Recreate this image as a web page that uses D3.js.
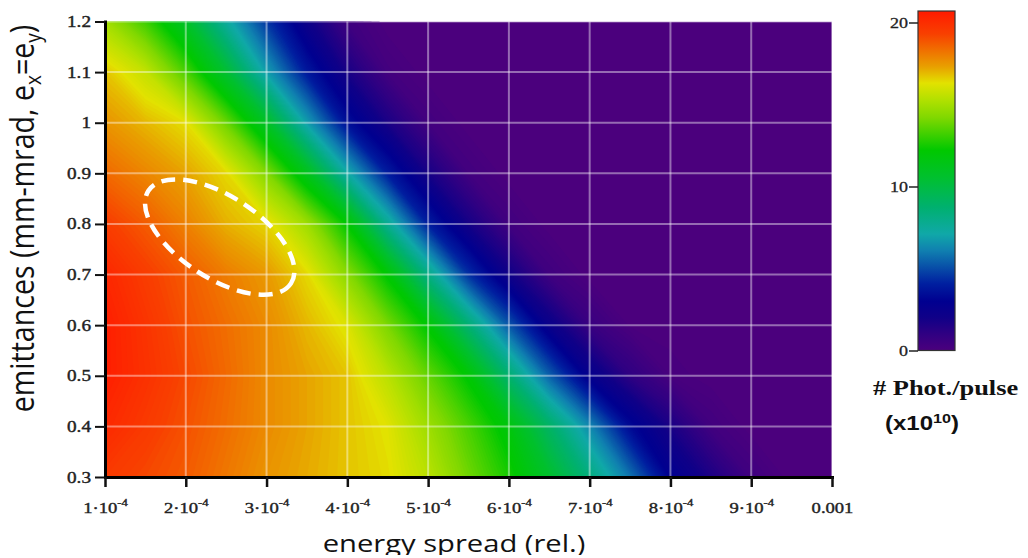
<!DOCTYPE html>
<html><head><meta charset="utf-8">
<script src="https://cdn.jsdelivr.net/npm/d3@7"></script>
<style>
html,body{margin:0;padding:0;background:#fff;}
svg{display:block;}
</style></head>
<body>
<svg id="chart" width="1028" height="558"></svg>
<script>
// ---------- data ----------
const energySpread = [1.0e-4,1.5e-4,2.0e-4,2.5e-4,3.0e-4,3.5e-4,4.0e-4,4.5e-4,5.0e-4,5.5e-4,
                      6.0e-4,6.5e-4,7.0e-4,7.5e-4,8.0e-4,8.5e-4,9.0e-4,9.5e-4,1.0e-3];
const emittance = [1.2,1.1,1.0,0.9,0.8,0.7,0.6,0.5,0.4,0.3];
// photons per pulse (x1e10), one row per emittance value (top row = 1.2)
const photons12 = [15.0,13.2,10.8,7.5,4.6,2.2,0.5,0,0,0,0,0,0,0,0,0,0,0,0];
const photons11 = [16.8,15.7,13.4,10.5,6.9,3.9,1.8,0.35,0,0,0,0,0,0,0,0,0,0,0];
const photons10 = [17.6,17.0,16.4,13.9,10.9,6.9,3.6,1.75,0.4,0,0,0,0,0,0,0,0,0,0];
const photons09 = [18.5,17.9,17.3,16.5,14.3,11.3,7.3,4.0,1.85,0.4,0,0,0,0,0,0,0,0,0];
const photons08 = [19.5,18.8,18.0,17.1,16.55,14.9,12.2,7.8,4.1,1.9,0.45,0,0,0,0,0,0,0,0];
const photons07 = [20.3,19.5,18.8,18.1,17.5,16.5,14.45,12.1,8.2,4.5,2.1,0.5,0,0,0,0,0,0,0];
const photons06 = [20.6,19.8,19.0,18.4,17.8,17.0,16.2,14.15,12.1,8.7,5.3,2.4,0.75,0.07,0,0,0,0,0];
const photons05 = [20.6,19.9,19.2,18.5,17.8,17.3,16.8,15.5,13.8,12.1,8.8,5.5,2.7,1.1,0.2,0,0,0,0];
const photons04 = [20.2,19.6,19.0,18.4,17.8,17.3,16.8,16.3,14.9,13.4,11.8,9.1,6.35,3.4,1.75,0.43,0,0,0];
const photons03 = [19.6,19.2,18.8,18.2,17.6,17.2,16.8,16.45,15.5,14.0,12.6,10.7,8.4,5.9,3.0,1.7,0.5,0,0];
const photons = [photons12,photons11,photons10,photons09,photons08,photons07,photons06,photons05,photons04,photons03];

const xTicks = [1e-4,2e-4,3e-4,4e-4,5e-4,6e-4,7e-4,8e-4,9e-4,1e-3];
const xTickLabels = ["1·10^-4","2·10^-4","3·10^-4","4·10^-4","5·10^-4","6·10^-4","7·10^-4","8·10^-4","9·10^-4","0.001"];
const yTicks = [0.3,0.4,0.5,0.6,0.7,0.8,0.9,1.0,1.1,1.2];
const yTickLabels = ["0.3","0.4","0.5","0.6","0.7","0.8","0.9","1","1.1","1.2"];
const cbarTicks = [0,10,20];
const cbarTickLabels = ["0","10","20"];
const colorStops = [0,1.0,2.0,3.0,4.1,5.1,6.1,7.1,8.7,10.5,12.2,13.2,14.2,15.2,16.3,17.3,18.3,19.3,20.7];
const colorRange = ["#4b007d","#300082","#100088","#000090","#0020a0","#0850a8","#1080b0","#10a8a8","#00b070",
                    "#00c030","#00c800","#40d000","#80d800","#aee000","#e2e200","#e8a000","#f07000","#f84000","#ff1a00"];
const ellipseCentre = [2.42e-4, 0.774];

// ---------- drawing ----------
const STRETCH = 1.2;
const svg = d3.select("#chart");
const x = d3.scaleLinear().domain([xTicks[0], xTicks[xTicks.length-1]]).range([105, 832]);
const y = d3.scaleLinear().domain([yTicks[0], yTicks[yTicks.length-1]]).range([477, 21.5]);
const color = d3.scaleLinear().domain(colorStops).range(colorRange).clamp(true);
const [X0, X1] = x.range(); const Y0 = y.range()[1], Y1 = y.range()[0];

const defs = svg.append("defs");
defs.append("clipPath").attr("id","plotClip").append("rect")
  .attr("x", X0).attr("y", Y0).attr("width", X1 - X0).attr("height", Y1 - Y0);
defs.append("clipPath").attr("id","pageClip").append("rect")
  .attr("x", 0).attr("y", 0).attr("width", 1028).attr("height", 555);

const plot = svg.append("g").attr("clip-path","url(#plotClip)");
plot.append("rect").attr("x", X0).attr("y", Y0).attr("width", X1 - X0).attr("height", Y1 - Y0)
  .attr("fill", color(0));

const nx = energySpread.length, ny = emittance.length;
const flat = photons.flat();
const thresholds = d3.range(0.1, 20.75, 0.1);
const bands = d3.contours().size([nx, ny]).thresholds(thresholds)(flat);
const gx = d3.scaleLinear().domain([0.5, nx - 0.5]).range([x(energySpread[0]), x(energySpread[nx-1])]);
const gy = d3.scaleLinear().domain([0.5, ny - 0.5]).range([y(emittance[0]), y(emittance[ny-1])]);
const geo = d3.geoPath(d3.geoTransform({ point(px, py) { this.stream.point(gx(px), gy(py)); } }));
plot.selectAll("path.band").data(bands).join("path").attr("class","band")
  .attr("d", geo).attr("fill", d => color(d.value));

// grid
const grid = svg.append("g").attr("stroke","#fff").attr("stroke-opacity",0.42).attr("stroke-width",2);
grid.selectAll("line.v").data(xTicks).join("line").attr("class","v")
  .attr("x1", d => x(d)).attr("x2", d => x(d)).attr("y1", Y0).attr("y2", Y1);
grid.selectAll("line.h").data(yTicks).join("line").attr("class","h")
  .attr("x1", X0).attr("x2", X1).attr("y1", d => y(d)).attr("y2", d => y(d));

// ellipse annotation
svg.append("ellipse")
  .attr("transform", `translate(${x(ellipseCentre[0])},${y(ellipseCentre[1])}) rotate(33)`)
  .attr("rx", 85).attr("ry", 41).attr("fill","none").attr("stroke","#fff")
  .attr("stroke-width", 4.5).attr("stroke-dasharray","14 8");

const serif = "'Liberation Serif','Times New Roman',serif";

// y axis
const yAxis = d3.axisLeft(y).tickValues(yTicks).tickFormat((d,i) => yTickLabels[i])
  .tickSize(10).tickSizeOuter(0).tickPadding(4);
const gY = svg.append("g").attr("transform", `translate(${X0},0)`).call(yAxis);
gY.select(".domain").attr("stroke","#000").attr("stroke-width",3).attr("stroke-linecap","square");
gY.selectAll(".tick line").attr("stroke","#111").attr("stroke-width",2);
gY.selectAll(".tick text")
  .attr("x", null).attr("dy", null)
  .attr("transform", `translate(-14,5) scale(${STRETCH},1)`)
  .style("font-family", serif).style("font-size","16px").attr("fill","#222")
  .attr("stroke","#222").attr("stroke-width",0.4);

// x axis
const xAxis = d3.axisBottom(x).tickValues(xTicks).tickFormat((d,i) => xTickLabels[i])
  .tickSize(10).tickSizeOuter(0);
const gX = svg.append("g").attr("transform", `translate(0,${Y1})`).call(xAxis);
gX.select(".domain").attr("stroke","#000").attr("stroke-width",3).attr("stroke-linecap","square");
gX.selectAll(".tick line").attr("stroke","#111").attr("stroke-width",2.5);
gX.selectAll(".tick text").each(function(d, i) {
  const t = d3.select(this);
  const parts = xTickLabels[i].split("^");
  t.text(null).attr("y", null).attr("dy", null)
    .attr("transform", `translate(0,36) scale(${STRETCH},1)`)
    .style("font-family", serif).style("font-size","15.5px").attr("fill","#222")
    .attr("stroke","#222").attr("stroke-width",0.4).attr("text-anchor","middle");
  t.append("tspan").text(parts[0]);
  if (parts[1]) t.append("tspan").attr("dy", -7).style("font-size","10.5px").text(parts[1]);
});

// axis titles
const sans = "'Open Sans','Noto Sans',sans-serif";
const yt = svg.append("text")
  .attr("transform", `translate(34,218.5) scale(1.15,1) rotate(-90)`)
  .attr("text-anchor","middle").style("font-family", sans).style("font-size","28.6px").attr("fill","#111");
yt.append("tspan").text("emittances (mm-mrad, e");
yt.append("tspan").style("font-size","19px").attr("dy", 6).text("x");
yt.append("tspan").attr("dy", -6).text("=e");
yt.append("tspan").style("font-size","19px").attr("dy", 6).text("y");
yt.append("tspan").attr("dy", -6).text(")");

svg.append("g").attr("clip-path","url(#pageClip)").append("text")
  .attr("transform", `translate(454,552) scale(${STRETCH},1)`)
  .attr("text-anchor","middle").style("font-family", sans).style("font-size","24.3px").attr("fill","#111")
  .text("energy spread (rel.)");

// colour bar
const cb = d3.scaleLinear().domain([cbarTicks[0], cbarTicks[cbarTicks.length-1]]).range([350.5, 22.5]);
const vMax = colorStops[colorStops.length-1];
const grad = defs.append("linearGradient").attr("id","cbGrad")
  .attr("x1",0).attr("y1",1).attr("x2",0).attr("y2",0);
grad.selectAll("stop").data(colorStops).join("stop")
  .attr("offset", d => d / vMax).attr("stop-color", d => color(d));
svg.append("rect").attr("x", 918).attr("width", 37)
  .attr("y", cb(vMax)).attr("height", cb(0) - cb(vMax))
  .attr("fill","url(#cbGrad)").attr("stroke","#333").attr("stroke-width",1.2);
const cAxis = d3.axisLeft(cb).tickValues(cbarTicks).tickFormat((d,i) => cbarTickLabels[i])
  .tickSize(9).tickSizeOuter(0);
const gC = svg.append("g").attr("transform","translate(918,0)").call(cAxis);
gC.select(".domain").remove();
gC.selectAll(".tick line").attr("stroke","#222").attr("stroke-width",1.5);
gC.selectAll(".tick text").attr("x", null).attr("dy", null)
  .attr("transform", `translate(-10,5) scale(${STRETCH},1)`)
  .style("font-family", serif).style("font-size","15px").attr("fill","#222")
  .attr("stroke","#222").attr("stroke-width",0.3);

// colour bar legend
svg.append("text").attr("transform", `translate(873,395) scale(${STRETCH},1)`)
  .style("font-family", serif).style("font-size","22px").style("font-weight","bold").attr("fill","#111")
  .text("# Phot./pulse");
const lt = svg.append("text").attr("transform", `translate(885,430) scale(${STRETCH},1)`)
  .style("font-family", "'Liberation Sans',Arial,sans-serif").style("font-size","20px")
  .style("font-weight","bold").attr("fill","#111");
lt.append("tspan").text("(x10");
lt.append("tspan").attr("dy", -7).style("font-size","13.5px").text("10");
lt.append("tspan").attr("dy", 7).text(")");
</script>
</body></html>
